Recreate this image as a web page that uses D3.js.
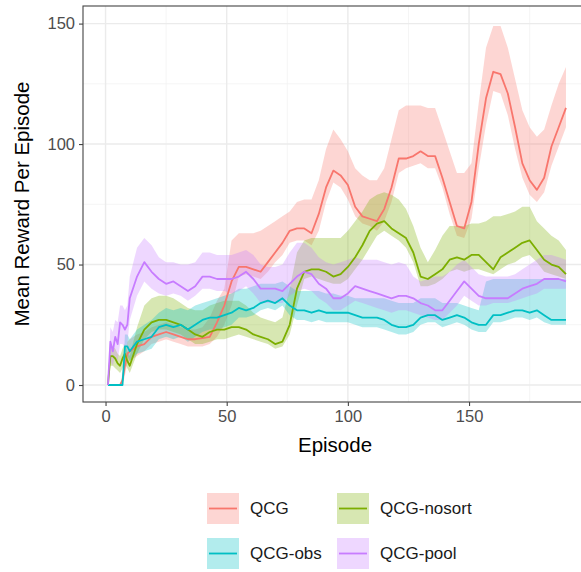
<!DOCTYPE html>
<html>
<head>
<meta charset="utf-8">
<script src="https://cdn.jsdelivr.net/npm/d3@7"></script>
<style>
  body { margin: 0; background: #fff; }
  svg { display: block; font-family: "Liberation Sans", Arial, sans-serif; }
</style>
</head>
<body>
<svg id="chart" width="581" height="572"></svg>
<script>
// Episodes at which the smoothed rewards were recorded
const episodes = [1,2,3,4,5,6,7,8,9,10,13,16,19,22,25,28,31,34,37,40,43,46,49,52,55,58,61,64,67,70,73,76,79,82,85,88,91,94,97,100,103,106,109,112,115,118,121,124,127,130,133,136,139,142,145,148,151,154,157,160,163,166,169,172,175,178,181,184,187,190];

// QCG
const qcgMean  = [0,0,0,0,0,0,2,8,13,14,16,17,20,21,22,21,20,19,19,19.5,20,26,33,43,49,49,48,47,51,55,59,64,65,65,63,71,82,89,87,83,74,70,69,68,73,82,94,94,95,97,95,95,86,76,66,65,76,100,119,130,129,121,107,92,85,81,86,99,107,115];
const qcgLower = [0,0,0,0,0,0,0,4,9,10,12,14,17,18,19,18,17,16,16,16,17,20,25,33,45,46,45,44,47,51,54,59,60,60,58,64,76,84,82,77,70,67,66,64,68,76,88,90,91,92,90,90,82,71,62,61,69,90,108,122,121,112,98,86,79,76,80,91,99,107];
const qcgUpper = [0,0,0,0,0,0,5,13,18,19,21,22,24,25,26,25,24,23,23,24,28,35,40,60,63,63,63,64,66,68,70,72,76,77,77,85,98,106,102,97,90,87,85,85,90,102,114,116,116,116,115,115,106,97,88,88,92,117,140,149,149,140,127,114,107,103,106,116,125,132];

// QCG-nosort
const nosortMean  = [0,12,12,11,9,8,11,13,10,8,17,23,26,27,27,26,25,23,21,20,22,23,23,24,24,23,21,20,19,17,18,25,40,47,48,48,47,45,46,49,53,58,64,67,68,65,63,61,55,45,44,46,48,52,53,52,54,54,51,48,53,55,57,59,60,56,52,50,49,46];
const nosortLower = [0,8,8,7,6,5,7,9,7,5,13,19,22,23,23,22,21,19,17,17,18,19,19,20,21,20,19,18,17,15,16,21,33,44,45,44,43,42,42,44,48,52,57,62,64,62,60,57,51,41,41,42,44,47,48,47,48,48,47,46,48,50,51,53,54,51,47,46,45,44];
const nosortUpper = [0,16,16,15,13,12,15,17,14,12,24,33,36,37,37,36,34,32,31,31,33,34,35,35,35,33,30,28,27,26,28,40,55,60,61,61,61,61,61,64,68,72,77,79,80,79,77,73,66,57,51,56,62,66,66,66,67,67,68,70,70,71,72,74,74,68,65,62,60,56];

// QCG-obs
const obsMean  = [0,0,0,0,0,0,0,16,16,14,18,19,20,24,25,24,25,23,25,27,28,28,29,30,32,31,32,34,35,34,36,33,31,31,30,31,30,30,30,30,29,28,28,28,27,25,24,24,25,28,29,29,27,28,29,28,26,25,25,29,29,30,31,31,30,31,29,27,27,27];
const obsLower = [0,0,0,0,0,0,0,12,12,10,13,14,15,19,20,19,20,18,20,22,23,23,24,25,28,28,29,31,32,31,33,29,27,27,26,27,26,26,26,26,25,24,24,24,23,22,21,21,22,25,26,26,24,25,26,25,23,22,22,26,26,27,28,28,27,28,26,25,25,25];
const obsUpper = [0,0,0,0,0,0,0,21,21,19,23,25,27,30,32,31,32,31,33,34,35,36,37,38,40,40,41,42,42,42,43,41,39,39,39,39,38,38,37,37,36,36,36,36,36,35,34,34,34,36,36,36,34,34,34,33,32,31,43,44,44,44,44,44,44,44,44,44,44,44];

// QCG-pool
const poolMean  = [0,18,14,20,17,26,25,23,25,36,45,51,47,44,42,43,41,39,41,45,45,44,44,44,45,47,44,40,40,40,39,42,45,47,46,42,40,36,36,38,41,40,39,38,37,36,37,37,36,34,33,31,31,35,39,43,40,37,36,36,36,36,38,40,41,42,44,44,44,43];
const poolLower = [0,10,8,12,10,17,17,15,17,27,37,43,40,38,37,38,37,35,37,40,40,39,39,38,39,41,38,34,34,34,34,37,39,40,39,36,34,31,31,33,35,34,33,32,31,30,31,31,30,29,28,27,27,30,33,37,35,33,33,34,34,34,35,36,37,38,40,40,40,40];
const poolUpper = [0,24,22,27,26,33,33,31,33,45,57,61,58,53,51,51,50,50,51,55,55,54,54,54,55,56,54,50,49,49,50,55,59,59,57,53,51,50,51,52,53,52,52,52,51,50,51,50,45,43,44,45,45,47,50,52,49,46,45,45,45,45,46,48,50,52,54,54,53,52];

const seriesNames = ["QCG", "QCG-nosort", "QCG-obs", "QCG-pool"];
const seriesColors = ["#F8766D", "#7CAE00", "#00BFC4", "#C77CFF"];
const xTicks = [0, 50, 100, 150];
const yTicks = [0, 50, 100, 150];
const xMinor = [25, 75, 125, 175];
const yMinor = [25, 75, 125];

const series = [
  { name: seriesNames[0], color: seriesColors[0], mean: qcgMean,    lower: qcgLower,    upper: qcgUpper },
  { name: seriesNames[1], color: seriesColors[1], mean: nosortMean, lower: nosortLower, upper: nosortUpper },
  { name: seriesNames[2], color: seriesColors[2], mean: obsMean,    lower: obsLower,    upper: obsUpper },
  { name: seriesNames[3], color: seriesColors[3], mean: poolMean,   lower: poolLower,   upper: poolUpper }
];

const svg = d3.select("#chart");
svg.append("rect").attr("width", 581).attr("height", 572).attr("fill", "#fff");

// Panel geometry
const panel = { left: 83, top: 6, right: 589, bottom: 402 };
const x = d3.scaleLinear().domain([-9.3, 199.5]).range([panel.left, panel.right]);
const y = d3.scaleLinear().domain([-7.05, 157.3]).range([panel.bottom, panel.top]);

svg.append("clipPath").attr("id", "panel-clip")
  .append("rect")
  .attr("x", panel.left).attr("y", panel.top)
  .attr("width", panel.right - panel.left).attr("height", panel.bottom - panel.top);

// Grid
const grid = svg.append("g");
grid.selectAll(".xminor").data(xMinor).join("line")
  .attr("x1", d => x(d)).attr("x2", d => x(d))
  .attr("y1", panel.top).attr("y2", panel.bottom)
  .attr("stroke", "#F3F3F3").attr("stroke-width", 0.8);
grid.selectAll(".yminor").data(yMinor).join("line")
  .attr("y1", d => y(d)).attr("y2", d => y(d))
  .attr("x1", panel.left).attr("x2", panel.right)
  .attr("stroke", "#F3F3F3").attr("stroke-width", 0.8);
grid.selectAll(".xmajor").data(xTicks).join("line")
  .attr("x1", d => x(d)).attr("x2", d => x(d))
  .attr("y1", panel.top).attr("y2", panel.bottom)
  .attr("stroke", "#EBEBEB").attr("stroke-width", 1.4);
grid.selectAll(".ymajor").data(yTicks).join("line")
  .attr("y1", d => y(d)).attr("y2", d => y(d))
  .attr("x1", panel.left).attr("x2", panel.right)
  .attr("stroke", "#EBEBEB").attr("stroke-width", 1.4);

// Ribbons and lines
const plot = svg.append("g").attr("clip-path", "url(#panel-clip)");
const idx = d3.range(episodes.length);

const area = s => d3.area()
  .x(i => x(episodes[i]))
  .y0(i => y(s.lower[i]))
  .y1(i => y(s.upper[i]))(idx);
const line = s => d3.line()
  .x(i => x(episodes[i]))
  .y(i => y(s.mean[i]))(idx);

plot.selectAll(".ribbon").data(series).join("path")
  .attr("d", area)
  .attr("fill", d => d.color)
  .attr("fill-opacity", 0.3);

plot.selectAll(".line").data(series).join("path")
  .attr("d", line)
  .attr("fill", "none")
  .attr("stroke", d => d.color)
  .attr("stroke-width", 1.8)
  .attr("stroke-linejoin", "round");

// Panel border
svg.append("rect")
  .attr("x", panel.left).attr("y", panel.top)
  .attr("width", panel.right - panel.left).attr("height", panel.bottom - panel.top)
  .attr("fill", "none").attr("stroke", "#444").attr("stroke-width", 1.1);

// Axes
const xAxis = svg.append("g")
  .attr("transform", `translate(0,${panel.bottom})`)
  .call(d3.axisBottom(x).tickValues(xTicks).tickSize(4).tickPadding(4).tickFormat(d3.format("d")));
const yAxis = svg.append("g")
  .attr("transform", `translate(${panel.left},0)`)
  .call(d3.axisLeft(y).tickValues(yTicks).tickSize(4).tickPadding(4).tickFormat(d3.format("d")));
[xAxis, yAxis].forEach(g => {
  g.select(".domain").remove();
  g.selectAll(".tick line").attr("stroke", "#444").attr("stroke-width", 1.1);
  g.selectAll(".tick text")
    .attr("fill", "#4D4D4D")
    .style("font-size", "16.5px")
    .style("font-family", "'Liberation Sans', Arial, sans-serif");
});

// Axis titles
svg.append("text")
  .attr("x", (83 + 589) / 2 - 1).attr("y", 452)
  .attr("text-anchor", "middle")
  .attr("fill", "#000")
  .style("font-size", "20.5px")
  .text("Episode");
svg.append("text")
  .attr("transform", `translate(29,${(panel.top + panel.bottom) / 2}) rotate(-90)`)
  .attr("text-anchor", "middle")
  .attr("fill", "#000")
  .style("font-size", "20.5px")
  .text("Mean Reward Per Episode");

// Legend (two columns, filled by row)
const legendCols = [207, 337];
const legendRows = [493, 538];
const keyW = 32, keyH = 31;
const legend = svg.append("g");
series.forEach((s, i) => {
  const kx = legendCols[i % 2];
  const ky = legendRows[Math.floor(i / 2)];
  const g = legend.append("g");
  g.append("rect")
    .attr("x", kx).attr("y", ky).attr("width", keyW).attr("height", keyH)
    .attr("fill", s.color).attr("fill-opacity", 0.3);
  g.append("line")
    .attr("x1", kx + 2).attr("x2", kx + keyW - 2)
    .attr("y1", ky + keyH / 2).attr("y2", ky + keyH / 2)
    .attr("stroke", s.color).attr("stroke-width", 1.8);
  g.append("text")
    .attr("x", kx + keyW + 11).attr("y", ky + keyH / 2)
    .attr("dominant-baseline", "central")
    .attr("fill", "#1a1a1a")
    .style("font-size", "17px")
    .text(s.name);
});
</script>
</body>
</html>
